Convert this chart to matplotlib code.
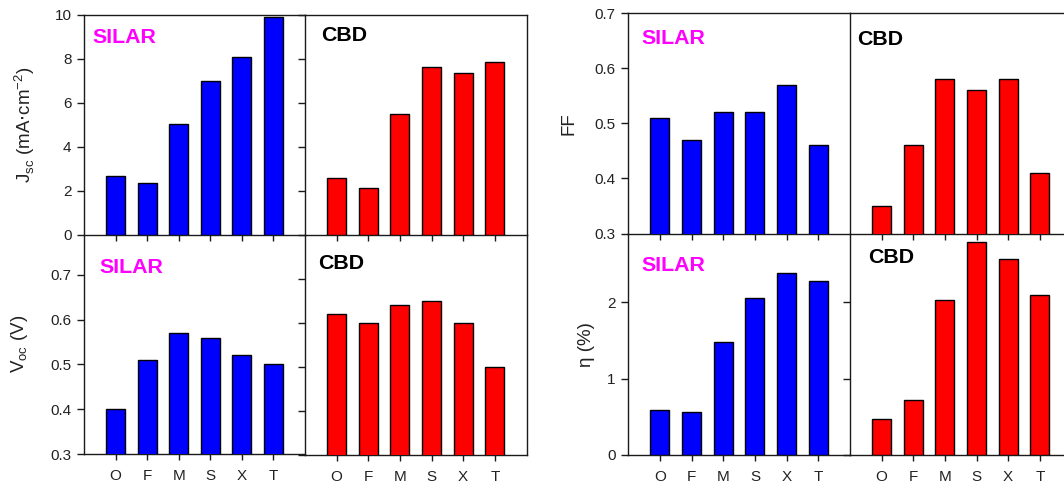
#!/usr/bin/env python3
# -*- coding: utf-8 -*-
"""
Photovoltaic parameters of SILAR and CBD sensitised cells
"""

import matplotlib
matplotlib.use('Agg')
import matplotlib.pyplot as plt

plt.rcParams['font.family'] = ['Liberation Sans', 'DejaVu Sans']
plt.rcParams['axes.linewidth'] = 1.0

samples = ['O', 'F', 'M', 'S', 'X', 'T']

jsc_silar = [2.67, 2.34, 5.02, 7.01, 8.07, 9.89]
jsc_cbd = [2.56, 2.11, 5.48, 7.62, 7.37, 7.86]
voc_silar = [0.40, 0.51, 0.57, 0.56, 0.52, 0.50]
voc_cbd = [0.62, 0.60, 0.64, 0.65, 0.60, 0.50]
ff_silar = [0.51, 0.47, 0.52, 0.52, 0.57, 0.46]
ff_cbd = [0.35, 0.46, 0.58, 0.56, 0.58, 0.41]
eta_silar = [0.59, 0.56, 1.48, 2.05, 2.38, 2.28]
eta_cbd = [0.47, 0.72, 2.03, 2.79, 2.56, 2.09]

W, H = 1064, 491


def place(x0, x1, y0, y1):
    # pixel box (origin top-left) -> figure fraction rect
    return [x0 / W, 1 - y1 / H, (x1 - x0) / W, (y1 - y0) / H]


def panel(fig, rect, values, color, ylim, yticks, method, tag_xy,
          top_row, side, ylabel=None, label_x=None, left_ticks=True):
    ax = fig.add_axes(rect)
    ax.set_facecolor('none')
    x = range(len(samples))
    ax.bar(x, values, width=0.6, color=color, edgecolor='black',
           linewidth=1.0, zorder=3)
    ax.set_xlim(-1, len(samples))
    ax.set_ylim(*ylim)
    ax.set_xticks(list(x))
    ax.set_yticks(yticks)

    ax.spines['top'].set_visible(top_row)
    ax.spines['right'].set_visible(side == 'cbd')
    for s in ax.spines.values():
        s.set_color('#1a1a1a')

    ax.tick_params(axis='both', direction='out', width=1.0, color='#1a1a1a',
                   labelsize=11, labelcolor='#222222')
    ax.tick_params(axis='y', length=5, pad=4)
    ax.tick_params(axis='x', length=4.5, pad=6)
    if top_row:
        ax.tick_params(axis='x', labelbottom=False)
    else:
        ax.set_xticklabels(samples)
    if side == 'cbd':
        ax.tick_params(axis='y', labelleft=False)
        if not left_ticks:
            ax.tick_params(axis='y', left=False)

    if method == 'SILAR':
        ax.text(tag_xy[0], tag_xy[1], 'SILAR', transform=ax.transAxes,
                color='#ff00ff', fontsize=15.4, fontweight='bold',
                va='baseline')
    else:
        ax.text(tag_xy[0], tag_xy[1], 'CBD', transform=ax.transAxes,
                color='black', fontsize=15.4, fontweight='bold',
                va='baseline')

    if ylabel is not None:
        ax.set_ylabel(ylabel, fontsize=13.5, color='#222222')
        ax.yaxis.label.set_va('center')
        ax.yaxis.set_label_coords(label_x, 0.5)
    return ax


fig = plt.figure(figsize=(W / 100, H / 100), dpi=100)

# short-circuit current density
panel(fig, place(84, 305, 15, 234.5), jsc_silar, 'blue', (0, 10),
      [0, 2, 4, 6, 8, 10], 'SILAR', (0.04, 0.874), True, 'silar',
      r'J$_{\mathregular{sc}}$ (mA$\cdot$cm$^{\mathregular{-2}}$)', -0.267)
panel(fig, place(305, 526.5, 15, 234.5), jsc_cbd, 'red', (0, 10),
      [0, 2, 4, 6, 8, 10], 'CBD', (0.071, 0.883), True, 'cbd')

# open-circuit voltage
panel(fig, place(84, 305, 234.5, 454), voc_silar, 'blue', (0.3, 0.79),
      [0.3, 0.4, 0.5, 0.6, 0.7], 'SILAR', (0.069, 0.826), False, 'silar',
      r'V$_{\mathregular{oc}}$ (V)', -0.29)
panel(fig, place(305, 526.5, 234.5, 455), voc_cbd, 'red', (0.3, 0.8),
      [0.3, 0.4, 0.5, 0.6, 0.7], 'CBD', (0.057, 0.844), False, 'cbd')

# fill factor
panel(fig, place(628.3, 850, 13.3, 233.5), ff_silar, 'blue', (0.3, 0.7),
      [0.3, 0.4, 0.5, 0.6, 0.7], 'SILAR', (0.06, 0.859), True, 'silar',
      'FF', -0.267)
panel(fig, place(850, 1071.5, 12.5, 233.5), ff_cbd, 'red', (0.3, 0.7),
      [0.3, 0.4, 0.5, 0.6, 0.7], 'CBD', (0.03, 0.853), True, 'cbd',
      left_ticks=False)

# efficiency
panel(fig, place(628.3, 850, 233.5, 455), eta_silar, 'blue', (0, 2.9),
      [0, 1, 2], 'SILAR', (0.06, 0.831), False, 'silar',
      'η (%)', -0.19)
panel(fig, place(850, 1071.5, 233.5, 455), eta_cbd, 'red', (0, 2.9),
      [0, 1, 2], 'CBD', (0.083, 0.865), False, 'cbd')

plt.savefig('out.png', dpi=100)
